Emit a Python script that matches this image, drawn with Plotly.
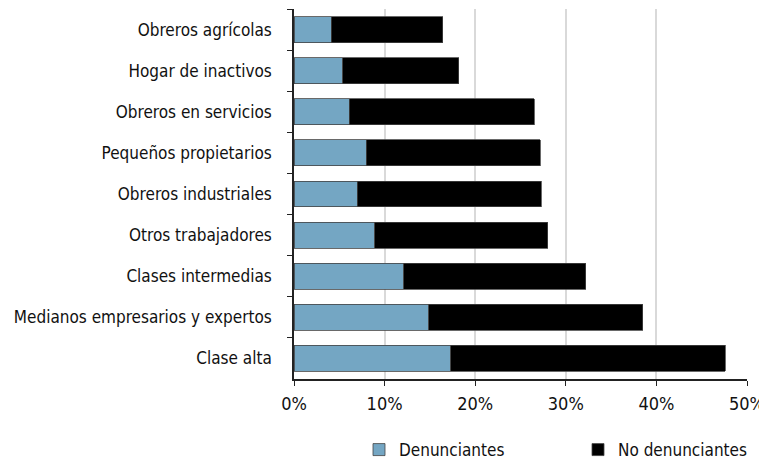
import plotly.graph_objects as go

categories = ["Obreros agrícolas", "Hogar de inactivos", "Obreros en servicios",
              "Pequeños propietarios", "Obreros industriales", "Otros trabajadores",
              "Clases intermedias", "Medianos empresarios y expertos", "Clase alta"]
denunciantes = [4.1, 5.4, 6.1, 8.0, 7.0, 8.9, 12.1, 14.9, 17.3]
no_denunciantes = [12.3, 12.8, 20.4, 19.2, 20.3, 19.1, 20.1, 23.6, 30.3]
x_ticks = [0, 10, 20, 30, 40, 50]
x_tick_labels = ["0%", "10%", "20%", "30%", "40%", "50%"]

FONT = "DejaVu Sans Condensed"

fig = go.Figure()
fig.add_trace(go.Bar(y=categories, x=denunciantes, orientation="h", name="Denunciantes",
                     marker=dict(color="#74A6C3", line=dict(color="#444444", width=0.8))))
fig.add_trace(go.Bar(y=categories, x=no_denunciantes, orientation="h", name="No denunciantes",
                     marker=dict(color="#000000", line=dict(color="#444444", width=0.8))))

fig.update_layout(
    barmode="stack", bargap=0.37,
    width=759, height=453,
    margin=dict(l=286, r=20, t=1, b=82, autoexpand=False),
    plot_bgcolor="white", paper_bgcolor="white",
    font=dict(family=FONT, size=16, color="#111111"),
    legend=dict(orientation="h", x=0.1435, xanchor="left", y=-0.192, yanchor="middle",
                font=dict(size=17), entrywidth=174, traceorder="normal",
                itemwidth=30),
    xaxis=dict(range=[0, 50], tickvals=x_ticks, ticktext=x_tick_labels,
               showgrid=True, gridcolor="#d9d9d9", gridwidth=1.5,
               showline=True, linecolor="#222222", linewidth=1.5,
               ticks="outside", ticklen=5, tickcolor="#222222",
               tickfont=dict(size=18), zeroline=False, automargin=False,
               ticklabelstandoff=3),
    yaxis=dict(autorange="reversed", type="category",
               showline=True, linecolor="#222222", linewidth=1.5,
               ticks="outside", ticklen=5, tickcolor="#222222", tickson="boundaries",
               tickfont=dict(size=17), ticklabelstandoff=17, showgrid=False,
               automargin=False),
)

fig.write_html("out.html")
